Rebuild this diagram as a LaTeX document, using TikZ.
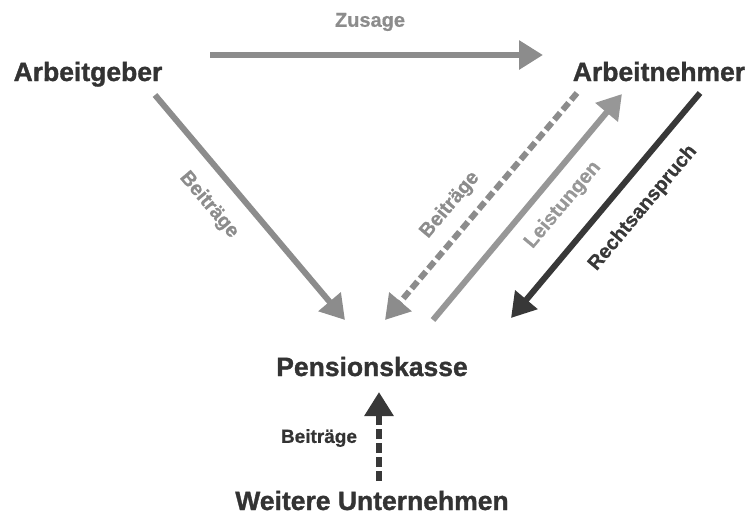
\documentclass[tikz,border=0pt]{standalone}
\usepackage{fontspec}
\setmainfont{Liberation Sans}
\newfontfamily\heavyfont{Liberation Sans Bold}[FakeBold=1.2]
\newfontfamily\labelfont{Liberation Sans Bold}[FakeBold=0.6]
\usetikzlibrary{arrows.meta}
\definecolor{txtdark}{HTML}{333333}
\definecolor{arrgray}{HTML}{8C8C8C}
\definecolor{arrlight}{HTML}{979797}
\definecolor{arrdark}{HTML}{383838}
\begin{document}
\begin{tikzpicture}[x=1pt,y=-1pt,
  party/.style={font=\heavyfont\fontsize{26.5}{27}\selectfont, text=txtdark, anchor=base, inner sep=0pt},
  lbl/.style={font=\labelfont\fontsize{20}{20}\selectfont, inner sep=0pt},
  flow/.style={line width=6pt, -{Triangle[length=24pt,width=28pt]}},
  dashflow/.style={flow, dash pattern=on 9pt off 4pt}
]
\useasboundingbox (0,0) rectangle (750,520);
% parties
\node[party] (ag) at (88,81) {Arbeitgeber};
\node[party] (an) at (659,81) {Arbeitnehmer};
\node[party] (pk) at (372,376) {Pensionskasse};
\node[party] (wu) at (372,510) {Weitere Unternehmen};
% connector ends
\coordinate (zS) at (210,55);  \coordinate (zE) at (543,55);
\coordinate (b1S) at (155,95); \coordinate (b1E) at (345,320);
\coordinate (b2S) at (577,93); \coordinate (b2E) at (385,320);
\coordinate (lS) at (433,320); \coordinate (lE) at (622,94);
\coordinate (rS) at (700,93);  \coordinate (rE) at (511,318);
\coordinate (bS) at (379,481); \coordinate (bE) at (379,392);
% arrows
\draw[flow, arrgray] (zS) -- (zE);
\draw[flow, arrgray] (b1S) -- (b1E);
\draw[dashflow, arrgray] (b2S) -- (b2E);
\draw[flow, arrlight] (lS) -- (lE);
\draw[flow, arrdark] (rS) -- (rE);
\draw[dashflow, arrdark, dash pattern=on 10pt off 4pt] (bS) -- (bE);
% labels
\node[lbl, text=arrgray] (lz) at (370,22) {Zusage};
\node[lbl, text=arrgray, rotate=-49.8] (lb1) at (209,205) {Beiträge};
\node[lbl, text=arrgray, rotate=49.8] (lb2) at (450,205) {Beiträge};
\node[lbl, text=arrlight, rotate=50] (ll) at (563,205) {Leistungen};
\node[lbl, text=arrdark, rotate=50] (lr) at (643,208) {Rechtsanspruch};
\node[lbl, text=txtdark, font=\labelfont\fontsize{19}{19}\selectfont] (lb3) at (319,438) {Beiträge};
\end{tikzpicture}
\end{document}
